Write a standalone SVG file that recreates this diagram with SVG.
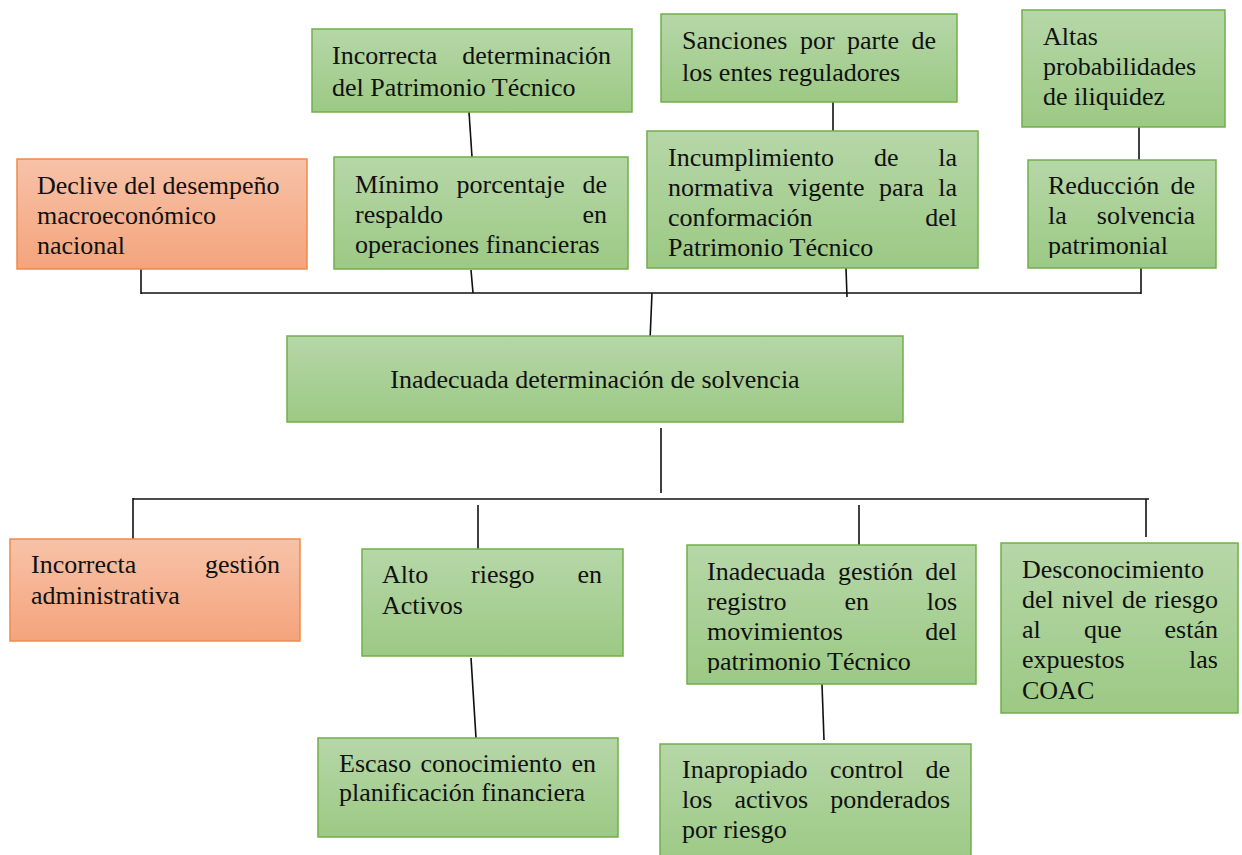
<svg xmlns="http://www.w3.org/2000/svg" width="1242" height="855" viewBox="0 0 1242 855" font-family="Liberation Serif, Tinos, Times New Roman, Times, DejaVu Serif, serif">
<style>
.g{fill:url(#gg);stroke:#72ae4a;stroke-width:1.5}
.o{fill:url(#og);stroke:#ee8a4a;stroke-width:1.5}
text{font-family:'Liberation Serif',Tinos,'Times New Roman',Times,'DejaVu Serif',serif;font-size:26px;fill:#111}
.e{text-anchor:end}
.c line{stroke:#111;stroke-width:1.6}
</style>
<defs>
<linearGradient id="gg" x1="0" y1="0" x2="0" y2="1"><stop offset="0" stop-color="#b6d7a8"/><stop offset="1" stop-color="#9cc984"/></linearGradient>
<linearGradient id="og" x1="0" y1="0" x2="0" y2="1"><stop offset="0" stop-color="#f7c2a8"/><stop offset="1" stop-color="#f4a47c"/></linearGradient>
<clipPath id="c7"><rect x="1028" y="160" width="188" height="98"/></clipPath>
<clipPath id="c12"><rect x="687" y="545" width="289" height="128"/></clipPath>
</defs>
<g class="c" id="connectors">
<line x1="469" y1="112" x2="472" y2="157"/>
<line x1="833" y1="102" x2="833" y2="131"/>
<line x1="1139" y1="127" x2="1139" y2="160"/>
<line x1="141" y1="293" x2="1141" y2="293"/>
<line x1="141" y1="269" x2="141" y2="294"/>
<line x1="471" y1="270" x2="473" y2="293"/>
<line x1="846" y1="268" x2="847" y2="297"/>
<line x1="1141" y1="268" x2="1141" y2="294"/>
<line x1="652" y1="293" x2="650" y2="340"/>
<line x1="661" y1="428" x2="661" y2="493"/>
<line x1="133" y1="499" x2="1149" y2="499"/>
<line x1="133" y1="498" x2="133" y2="540"/>
<line x1="478" y1="505" x2="478" y2="550"/>
<line x1="859" y1="505" x2="859" y2="545"/>
<line x1="1146" y1="499" x2="1146" y2="537"/>
<line x1="471" y1="658" x2="476" y2="738"/>
<line x1="822" y1="684" x2="824" y2="740"/>
</g>
<g id="n1"><rect class="g" x="312" y="29" width="320" height="83"/>
<text y="64"><tspan x="332">Incorrecta</tspan><tspan x="611" class="e">determinación</tspan></text>
<text x="332" y="96">del Patrimonio Técnico</text></g>
<g id="n2"><rect class="g" x="661" y="14" width="296" height="88"/>
<text y="49"><tspan x="682">Sanciones</tspan><tspan x="800">por</tspan><tspan x="847">parte</tspan><tspan x="936" class="e">de</tspan></text>
<text x="682" y="81">los entes reguladores</text></g>
<g id="n3"><rect class="g" x="1022" y="10" width="203" height="117"/>
<text x="1043" y="45">Altas</text><text x="1043" y="75">probabilidades</text><text x="1043" y="105">de iliquidez</text></g>
<g id="n4"><rect class="o" x="17" y="159" width="290" height="110"/>
<text x="37" y="194">Declive del desempeño</text><text x="37" y="224">macroeconómico</text><text x="37" y="254">nacional</text></g>
<g id="n5"><rect class="g" x="334" y="157" width="294" height="112"/>
<text y="193"><tspan x="355">Mínimo</tspan><tspan x="456.5">porcentaje</tspan><tspan x="607" class="e">de</tspan></text>
<text y="223"><tspan x="355">respaldo</tspan><tspan x="607" class="e">en</tspan></text>
<text x="355" y="253">operaciones financieras</text></g>
<g id="n6"><rect class="g" x="647" y="131" width="331" height="137"/>
<text y="166"><tspan x="668">Incumplimiento</tspan><tspan x="874">de</tspan><tspan x="957" class="e">la</tspan></text>
<text y="196"><tspan x="668">normativa</tspan><tspan x="788">vigente</tspan><tspan x="879">para</tspan><tspan x="957" class="e">la</tspan></text>
<text y="226"><tspan x="668">conformación</tspan><tspan x="957" class="e">del</tspan></text>
<text x="668" y="256">Patrimonio Técnico</text></g>
<g id="n7"><rect class="g" x="1028" y="160" width="188" height="108"/>
<g clip-path="url(#c7)">
<text y="194"><tspan x="1048">Reducción</tspan><tspan x="1195" class="e">de</tspan></text>
<text y="224"><tspan x="1048">la</tspan><tspan x="1195" class="e">solvencia</tspan></text>
<text x="1048" y="254">patrimonial</text></g></g>
<g id="n8"><rect class="g" x="287" y="336" width="616" height="86"/>
<text x="595" y="388" text-anchor="middle">Inadecuada determinación de solvencia</text></g>
<g id="n9"><rect class="o" x="10" y="539" width="290" height="102"/>
<text y="573"><tspan x="31">Incorrecta</tspan><tspan x="280" class="e">gestión</tspan></text>
<text x="31" y="604">administrativa</text></g>
<g id="n10"><rect class="g" x="362" y="549" width="261" height="107"/>
<text y="583"><tspan x="382">Alto</tspan><tspan x="471">riesgo</tspan><tspan x="602" class="e">en</tspan></text>
<text x="382" y="614">Activos</text></g>
<g id="n11"><rect class="g" x="687" y="545" width="289" height="139"/>
<g clip-path="url(#c12)">
<text y="580"><tspan x="707">Inadecuada</tspan><tspan x="838">gestión</tspan><tspan x="957" class="e">del</tspan></text>
<text y="610"><tspan x="707">registro</tspan><tspan x="844.5">en</tspan><tspan x="957" class="e">los</tspan></text>
<text y="640"><tspan x="707">movimientos</tspan><tspan x="957" class="e">del</tspan></text>
<text x="707" y="670">patrimonio Técnico</text></g></g>
<g id="n12"><rect class="g" x="1001" y="543" width="237" height="170"/>
<text x="1022" y="578">Desconocimiento</text>
<text y="608"><tspan x="1022">del</tspan><tspan x="1062">nivel</tspan><tspan x="1122">de</tspan><tspan x="1218" class="e">riesgo</tspan></text>
<text y="638"><tspan x="1022">al</tspan><tspan x="1084">que</tspan><tspan x="1218" class="e">están</tspan></text>
<text y="668"><tspan x="1022">expuestos</tspan><tspan x="1218" class="e">las</tspan></text>
<text x="1022" y="699">COAC</text></g>
<g id="n13"><rect class="g" x="318" y="738" width="300" height="99"/>
<text y="772"><tspan x="339">Escaso</tspan><tspan x="420.5">conocimiento</tspan><tspan x="596" class="e">en</tspan></text>
<text x="339" y="801">planificación financiera</text></g>
<g id="n14"><rect class="g" x="660" y="744" width="311" height="120"/>
<text y="778"><tspan x="682">Inapropiado</tspan><tspan x="830">control</tspan><tspan x="950" class="e">de</tspan></text>
<text y="808"><tspan x="682">los</tspan><tspan x="734.5">activos</tspan><tspan x="950" class="e">ponderados</tspan></text>
<text x="682" y="838">por riesgo</text></g>
</svg>
